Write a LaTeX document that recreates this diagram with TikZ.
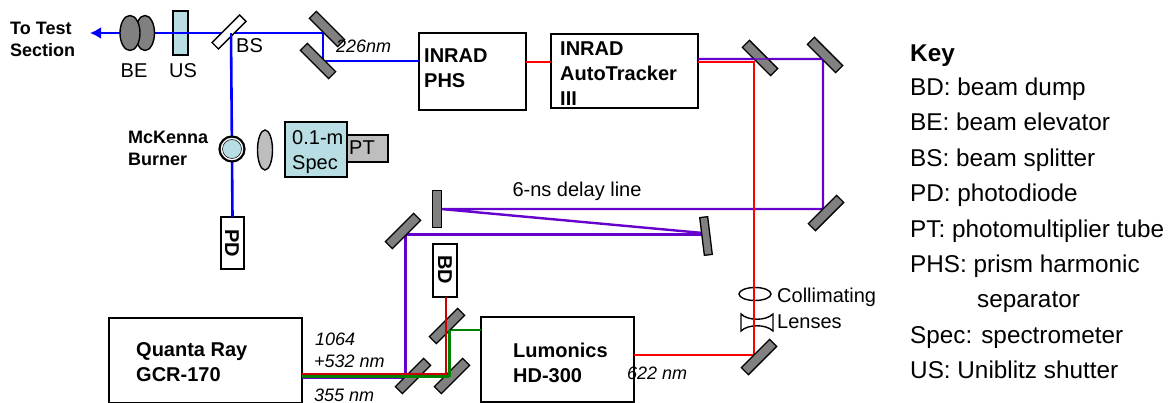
\documentclass[tikz,border=0pt]{standalone}
\usepackage{fontspec}
\setmainfont{Liberation Sans}
\usetikzlibrary{arrows.meta,shapes.geometric}
\definecolor{beamblue}{RGB}{0,0,255}
\definecolor{beamred}{RGB}{255,0,0}
\definecolor{dkred}{RGB}{204,0,0}
\definecolor{beamgreen}{RGB}{0,128,0}
\definecolor{beampurple}{RGB}{102,0,204}
\definecolor{lblue}{RGB}{184,222,227}
\definecolor{mgray}{RGB}{128,128,128}
\definecolor{lgray}{RGB}{190,190,190}
\tikzset{
  x=1pt,y=-1pt,
  mirror/.style={draw=black,line width=1.3pt,fill=mgray,minimum width=40pt,minimum height=10pt,inner sep=0pt,outer sep=0pt},
  box/.style={draw=black,line width=1.4pt,fill=white,inner sep=0pt,outer sep=0pt,anchor=north west},
  lensshape/.style={ellipse,draw=black,line width=1.4pt,inner sep=0pt},
  boldsmall/.style={font=\fontsize{18}{22}\selectfont\bfseries,align=left,inner sep=0pt,anchor=north west},
  boldbig/.style={font=\fontsize{20}{25}\selectfont\bfseries,align=left,inner sep=0pt,anchor=north west},
  boldrot/.style={font=\fontsize{20}{20}\selectfont\bfseries,rotate=-90,inner sep=0pt},
  plain/.style={font=\fontsize{20}{25}\selectfont,align=left,inner sep=0pt},
  ital/.style={font=\fontsize{18}{22}\selectfont\itshape,inner sep=0pt,anchor=base west},
  keytxt/.style={font=\fontsize{24.3}{28}\selectfont,inner sep=0pt,anchor=base west},
  bb/.style={beamblue,line width=2.6pt},
  pbthick/.style={beampurple,line width=3pt},
  pbthin/.style={beampurple,line width=2.4pt},
  rb/.style={beamred,line width=2.4pt},
  dr/.style={dkred,line width=2.2pt},
  gb/.style={beamgreen,line width=2.2pt},
  gbv/.style={beamgreen,line width=3pt},
}
\begin{document}
\begin{tikzpicture}
\useasboundingbox (0,0) rectangle (1174,403);
% coordinates
\coordinate (tip) at (90,33);
\coordinate (bsc) at (231,33);
\coordinate (fold1) at (323,33);
\coordinate (fold2) at (323,61);
\coordinate (r1) at (754,62);
\coordinate (r2) at (754,355);
\coordinate (p1) at (823,59);
\coordinate (p2) at (823,209);
\coordinate (p3) at (441,209);
\coordinate (p4) at (703,233);
\coordinate (p4b) at (703,235);
\coordinate (p5) at (405,235);
\coordinate (p6) at (405,378);
\coordinate (rq) at (446,374);
\coordinate (gq) at (449,376.5);
\coordinate (gq2) at (449,330);
% boxes
\node[box,minimum width=107pt,minimum height=77pt] (phs) at (419,33) {};
\node[box,minimum width=147pt,minimum height=74pt] (auto) at (551,34) {};
\node[box,minimum width=193pt,minimum height=85pt] (quanta) at (109,318) {};
\node[box,minimum width=153pt,minimum height=85pt] (lum) at (481,317) {};
\node[box,minimum width=23pt,minimum height=52pt] (pd) at (221,217) {};
\node[box,minimum width=24pt,minimum height=53pt] (bd) at (433,244) {};
\node[box,fill=lblue,minimum width=15pt,minimum height=44pt] (us) at (173,11) {};
\node[box,fill=lgray,minimum width=41pt,minimum height=27pt] (pt) at (347,135) {};
\node[box,fill=lblue,minimum width=62pt,minimum height=55pt] (spec) at (285,122) {};
% collimating lenses
\node[lensshape,minimum width=32pt,minimum height=13pt] (cl1) at (755,294) {};
\draw[black,line width=1.4pt] (741,314) .. controls (748,321) and (766,321) .. (773,314) -- (773,331) .. controls (766,324) and (748,324) .. (741,331) -- cycle;
% beams
\draw[bb,-{Latex[length=11pt,width=12pt]}] (fold1) -- (tip);
\draw[bb] (bsc) -- (pd.north);
\draw[bb] (fold1) -- (fold2) -- (fold2 -| phs.west);
\draw[rb] (phs.east |- r1) -- (auto.west |- r1);
\draw[pbthin] (auto.east |- p1) -- (p1) -- (p2) -- (p3) -- (p4);
\draw[pbthick] (p4b) -- (p5) -- (p6);
\draw[pbthin,line width=2pt] (p6) -- (quanta.east |- p6);
\draw[rb] (auto.east |- r1) -- (r1) -- (r2) -- (lum.east |- r2);
\draw[gb] (gq2) -- (lum.west |- gq2);
% mirrors
\node[mirror,rotate=-45] (m1) at (327,29) {};
\node[mirror,rotate=-45] (m2) at (318,61) {};
\node[mirror,rotate=-45] (m3) at (760,58) {};
\node[mirror,rotate=-45] (m4) at (825,55) {};
\node[mirror,rotate=45] (m5) at (826,213) {};
\node[mirror,rotate=90,minimum width=37pt,minimum height=9pt] (m6) at (437,209) {};
\node[mirror,rotate=97,minimum width=38pt,minimum height=8pt] (m7) at (706,236) {};
\node[mirror,rotate=45] (m8) at (403,231) {};
\node[mirror,rotate=45] (m9) at (447,326) {};
\node[mirror,rotate=45] (m10) at (452,376) {};
\node[mirror,rotate=45] (m11) at (413,376) {};
\node[mirror,rotate=45] (m12) at (759,357) {};
\node[mirror,rotate=45,fill=white,minimum width=39pt,minimum height=9pt] (bs) at (229,32) {};
\draw[bb] (bsc) -- ++(0,6);
\draw[bb] (fold1) -- ++(-70,0);
% beams that run over the mirrors
\draw[gb] (quanta.east |- gq) -- (gq);
\draw[gbv] (gq) -- (gq2);
\draw[dr] (quanta.east |- rq) -- (rq) -- (bd.south -| rq);
\draw[pbthin,line width=1.2pt,opacity=.7] (auto.east |- p1) -- (p1);
\draw[rb] (auto.east |- r1) -- (r1) -- ++(0,10);
% beam expander, lens, burner
\node[lensshape,fill=mgray,minimum width=19pt,minimum height=35pt] (be2) at (145,33) {};
\node[lensshape,fill=mgray,minimum width=20pt,minimum height=35pt] (be1) at (130,33) {};
\node[lensshape,fill=lgray,minimum width=15pt,minimum height=40pt] (lens) at (265,150) {};
\node[circle,draw=black,line width=2.2pt,fill=white,minimum size=25pt,inner sep=0pt] (burner) at (232,149) {};
\node[circle,draw=black,line width=.5pt,fill=lblue,minimum size=19pt,inner sep=0pt] (burneri) at (232,149) {};
% labels
\node[boldsmall] (t1) at (10,22) {To Test\\Section};
\node[plain,anchor=base] (lbe) at (134,78) {BE};
\node[plain,anchor=base] (lus) at (183,78) {US};
\node[plain,anchor=base west] (lbs) at (236,53) {BS};
\node[ital] (l226) at (336,53) {226nm};
\node[boldsmall] (t2) at (128,131) {McKenna\\Burner};
\node[plain,anchor=north west] (lspec) at (292,130) {0.1-m\\Spec};
\node[plain,anchor=base west] (lpt) at (349,155) {PT};
\node[boldrot] (lpd) at (232,243) {PD};
\node[boldrot] (lbd) at (445,270) {BD};
\node[boldbig] (tphs) at (424,48.6) {INRAD\\PHS};
\node[boldbig] (tauto) at (560,41.6) {INRAD\\AutoTracker\\III};
\node[plain,anchor=base] (ldelay) at (577,197) {6-ns delay line};
\node[plain,anchor=base west] (lcoll) at (777,302) {Collimating};
\node[plain,anchor=base west] (llens) at (777,328) {Lenses};
\node[boldbig] (tq) at (136,342.5) {Quanta Ray\\GCR-170};
\node[boldbig] (tl) at (513,342.5) {Lumonics\\HD-300};
\node[ital] (l1064) at (315,345) {1064};
\node[ital] (l532) at (314,367) {+532 nm};
\node[ital] (l355) at (314,401) {355 nm};
\node[ital] (l622) at (627,379) {622 nm};
% key
\node[keytxt,font=\fontsize{24.3}{28}\selectfont\bfseries] (k0) at (910,62) {Key};
\node[keytxt] (k1) at (910,95.5) {BD: beam dump};
\node[keytxt] (k2) at (910,131) {BE: beam elevator};
\node[keytxt] (k3) at (910,167) {BS: beam splitter};
\node[keytxt] (k4) at (910,202) {PD: photodiode};
\node[keytxt] (k5) at (910,237) {PT: photomultiplier tube};
\node[keytxt] (k6) at (910,272) {PHS: prism harmonic};
\node[keytxt] (k7) at (977,307) {separator};
\node[keytxt] (k8) at (910,343) {Spec: spectrometer};
\node[keytxt] (k9) at (910,378) {US: Uniblitz shutter};
\end{tikzpicture}
\end{document}
